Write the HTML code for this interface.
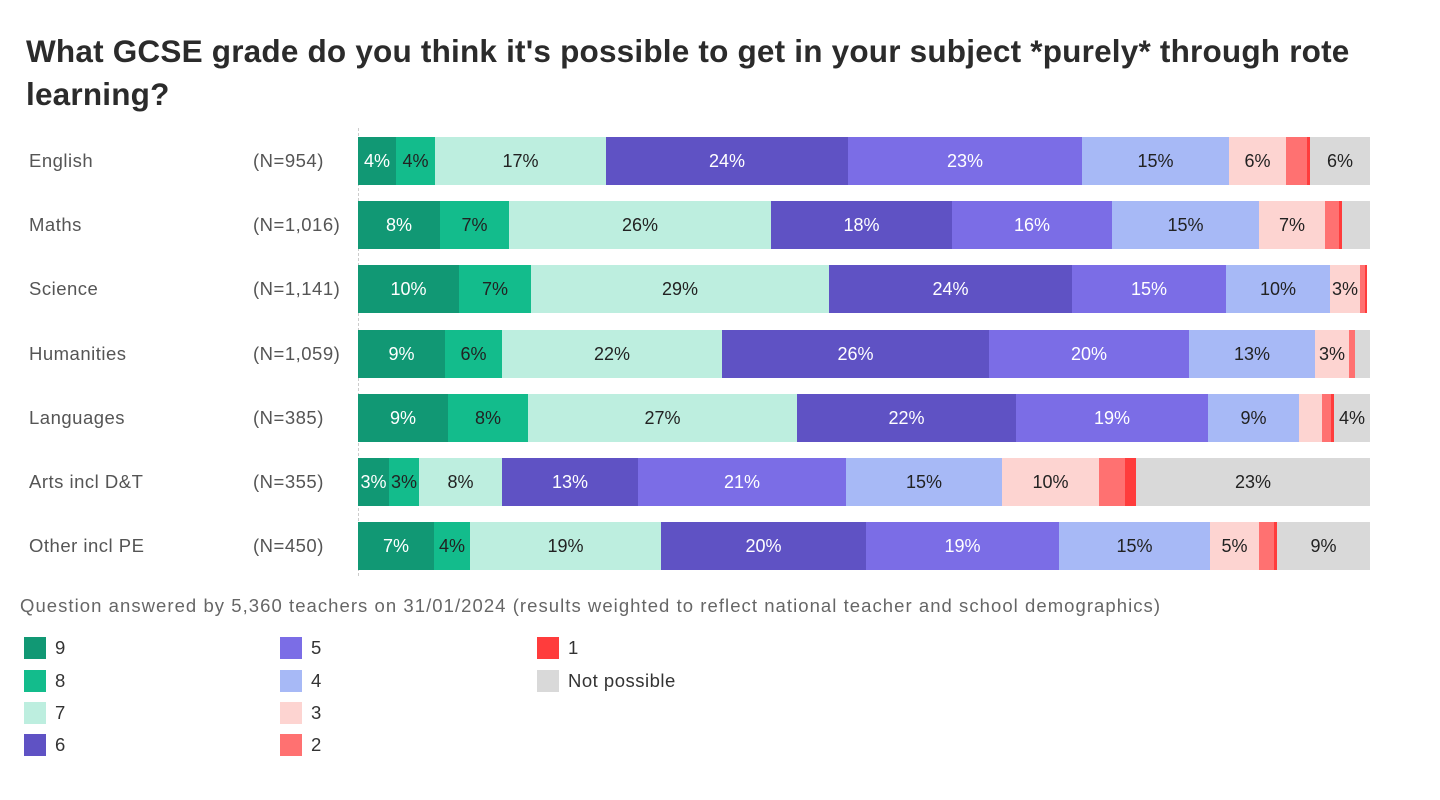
<!DOCTYPE html>
<html><head><meta charset="utf-8"><style>
body{margin:0;width:1440px;height:800px;background:#fff;font-family:"Liberation Sans",sans-serif;position:relative;overflow:hidden}
.t{position:absolute;left:26px;top:30px;font-size:31.5px;font-weight:bold;color:#2b2b2b;line-height:43px;width:1400px;letter-spacing:0.2px;white-space:nowrap}
.lab{position:absolute;font-size:18.5px;color:#555;letter-spacing:0.5px}
.seg{position:absolute;height:48px;line-height:48px;text-align:center;font-size:18px;white-space:nowrap;overflow:visible}
.axis{position:absolute;left:358px;top:128px;height:448px;border-left:1px dashed #ccc}
.foot{position:absolute;left:20px;top:595px;font-size:18.5px;color:#666;white-space:nowrap;letter-spacing:1.05px}
.lg{position:absolute;font-size:18.5px;color:#333;white-space:nowrap;letter-spacing:0.5px}
.lg i{position:absolute;left:0;top:0;width:22px;height:22px}
.lg span{position:absolute;left:31px;top:0;line-height:22px}
</style></head><body>
<div class="t">What GCSE grade do you think it's possible to get in your subject *purely* through rote<br>learning?</div>
<div class="axis"></div>
<div id="c"></div>
<div class="foot">Question answered by 5,360 teachers on 31/01/2024 (results weighted to reflect national teacher and school demographics)</div>
<div id="lg"></div>
<script>
var col=["#119874","#13bc8c","#bdeedf","#5f52c4","#7b6de6","#a7b9f6","#fdd4d1","#ff7171","#ff3c3c","#d9d9d9"];
var white=[1,0,0,1,1,0,0,0,0,0];
var rows=[
["English","(N=954)",137,[358,396,435,606,848,1082,1229,1286,1307,1310,1370],["4%","4%","17%","24%","23%","15%","6%","","","6%"]],
["Maths","(N=1,016)",201,[358,440,509,771,952,1112,1259,1325,1339,1342,1370],["8%","7%","26%","18%","16%","15%","7%","","",""]],
["Science","(N=1,141)",265,[358,459,531,829,1072,1226,1330,1360,1365,1367,1367],["10%","7%","29%","24%","15%","10%","3%","","",""]],
["Humanities","(N=1,059)",330,[358,445,502,722,989,1189,1315,1349,1355,1355,1370],["9%","6%","22%","26%","20%","13%","3%","","",""]],
["Languages","(N=385)",394,[358,448,528,797,1016,1208,1299,1322,1331,1334,1370],["9%","8%","27%","22%","19%","9%","","","","4%"]],
["Arts incl D&amp;T","(N=355)",458,[358,389,419,502,638,846,1002,1099,1125,1136,1370],["3%","3%","8%","13%","21%","15%","10%","","","23%"]],
["Other incl PE","(N=450)",522,[358,434,470,661,866,1059,1210,1259,1274,1277,1370],["7%","4%","19%","20%","19%","15%","5%","","","9%"]]
];
var h="";
rows.forEach(function(r){
 h+='<div class="lab" style="left:29px;top:'+(r[2]+13)+'px">'+r[0]+'</div>';
 h+='<div class="lab" style="left:253px;top:'+(r[2]+13)+'px">'+r[1]+'</div>';
 for(var i=0;i<10;i++){var a=r[3][i],b=r[3][i+1];if(b<=a)continue;
  h+='<div class="seg" style="left:'+a+'px;top:'+r[2]+'px;width:'+(b-a)+'px;background:'+col[i]+';color:'+(white[i]?'#fff':'#222')+'">'+r[4][i]+'</div>';}
});
document.getElementById("c").innerHTML=h;
var L=[["9",24,637,0],["8",24,670,1],["7",24,702,2],["6",24,734,3],["5",280,637,4],["4",280,670,5],["3",280,702,6],["2",280,734,7],["1",537,637,8],["Not possible",537,670,9]];
var g="";L.forEach(function(l){g+='<div class="lg" style="left:'+l[1]+'px;top:'+l[2]+'px"><i style="background:'+col[l[3]]+'"></i><span>'+l[0]+'</span></div>';});
document.getElementById("lg").innerHTML=g;
</script>
</body></html>
